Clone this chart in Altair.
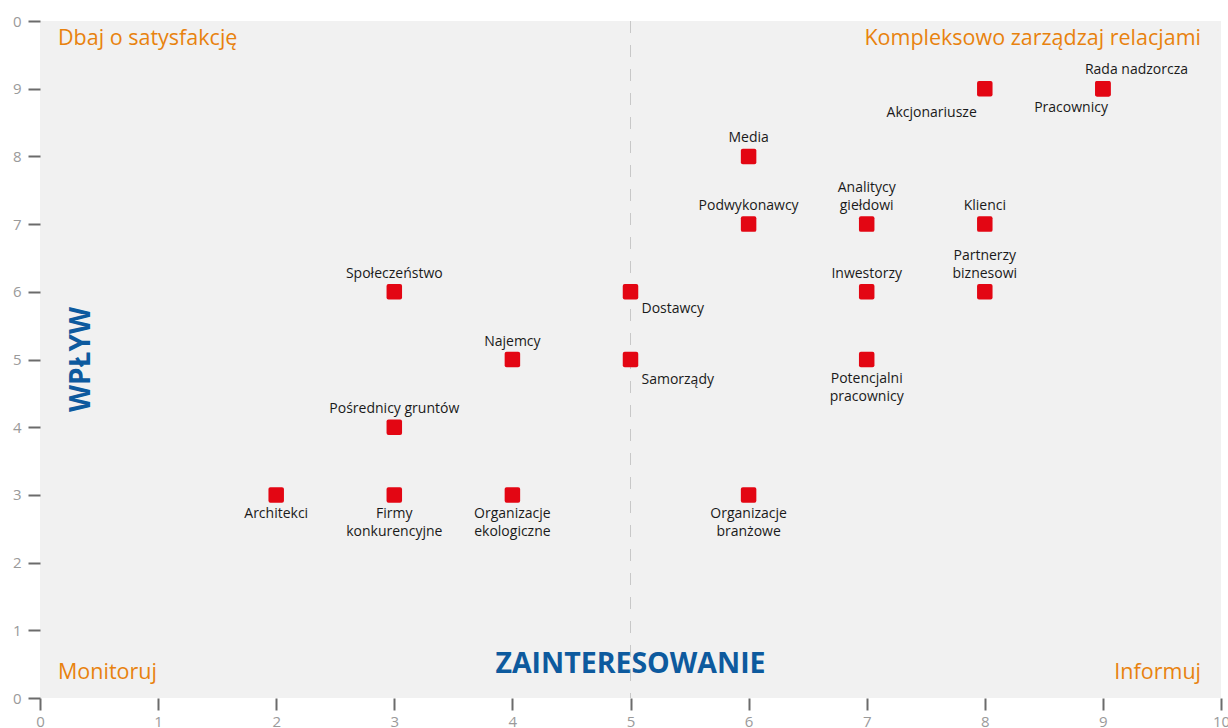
import altair as alt
import pandas as pd

# Stakeholder map data
names = ["Rada nadzorcza", "Pracownicy", "Akcjonariusze", "Media", "Podwykonawcy",
         "Analitycy\ngiełdowi", "Klienci", "Inwestorzy", "Partnerzy\nbiznesowi",
         "Społeczeństwo", "Dostawcy", "Najemcy", "Samorządy", "Potencjalni\npracownicy",
         "Pośrednicy gruntów", "Architekci", "Firmy\nkonkurencyjne",
         "Organizacje\nekologiczne", "Organizacje\nbranżowe"]
interest = [9, 9, 8, 6, 6, 7, 8, 7, 8, 3, 5, 4, 5, 7, 3, 2, 3, 4, 6]
influence = [9, 9, 9, 8, 7, 7, 7, 6, 6, 6, 6, 5, 5, 5, 4, 3, 3, 3, 3]
placement = ["above-right", "below-left", "below-left-far", "above", "above",
             "above2", "above", "above", "above2", "above", "right", "above", "right2",
             "below", "above", "below", "below", "below", "below"]

quad_texts = ["Dbaj o satysfakcję", "Kompleksowo zarządzaj relacjami", "Monitoruj", "Informuj"]
quad_x = [0, 10, 0, 10]
quad_y = [10, 10, 0, 0]
quad_align = ["left", "right", "left", "right"]
quad_base = ["top", "top", "bottom", "bottom"]

df = pd.DataFrame({"name": names, "x": interest, "y": influence, "pos": placement})
df["label"] = df["name"].str.split("\n")

FONT = "Open Sans"
W, H = 1181, 677

xs = alt.Scale(domain=[0, 10], nice=False, zero=False)
ys = alt.Scale(domain=[0, 10], nice=False, zero=False)

base = alt.Chart(df)

xaxis = alt.Axis(values=list(range(0, 11)), format="d", domain=False, grid=False, tickSize=12,
                 tickWidth=2, tickColor="#6b6b6b", labelColor="#9a9a9a", labelFontSize=15,
                 labelFont=FONT, labelPadding=4, title=None, labelFlush=False)
yaxis = alt.Axis(values=list(range(0, 11)), format="d", domain=False, grid=False, tickSize=12,
                 tickWidth=2, tickColor="#6b6b6b", labelColor="#9a9a9a", labelFontSize=15,
                 labelFont=FONT, labelPadding=7, title=None, labelFlush=False,
                 labelExpr="datum.value == 10 ? '0' : datum.label")

rounded = "M-0.75,-1 L0.75,-1 Q1,-1 1,-0.75 L1,0.75 Q1,1 0.75,1 L-0.75,1 Q-1,1 -1,0.75 L-1,-0.75 Q-1,-1 -0.75,-1 Z"

points = base.mark_point(shape=rounded, filled=True, size=240, color="#e30613",
                         opacity=1).encode(
    x=alt.X("x:Q", scale=xs, axis=xaxis),
    y=alt.Y("y:Q", scale=ys, axis=yaxis),
)

mid = alt.Chart(pd.DataFrame({"x": [5]})).mark_rule(
    color="#c8c8c8", strokeDash=[12, 12], strokeWidth=1).encode(x=alt.X("x:Q", scale=xs))

styles = {
    "above": dict(align="center", baseline="bottom", dx=0, dy=-11),
    "above2": dict(align="center", baseline="bottom", dx=0, dy=-29),
    "below": dict(align="center", baseline="top", dx=0, dy=12),
    "right": dict(align="left", baseline="top", dx=11, dy=10),
    "right2": dict(align="left", baseline="top", dx=11, dy=13),
    "above-right": dict(align="left", baseline="bottom", dx=-18, dy=-12),
    "below-left": dict(align="right", baseline="top", dx=5, dy=12),
    "below-left-far": dict(align="right", baseline="top", dx=-8, dy=17),
}

label_layers = []
for pos, st in styles.items():
    label_layers.append(
        base.transform_filter(alt.datum.pos == pos).mark_text(
            font=FONT, fontSize=14, color="#1a1a1a", lineHeight=18, **st
        ).encode(x=alt.X("x:Q", scale=xs), y=alt.Y("y:Q", scale=ys), text="label:N")
    )

qdf = pd.DataFrame({"t": quad_texts, "x": quad_x, "y": quad_y})
quad_layers = []
for i in range(4):
    sub = qdf.iloc[[i]]
    dx = 18 if quad_align[i] == "left" else -20
    dy = 7 if quad_base[i] == "top" else -14
    quad_layers.append(
        alt.Chart(sub).mark_text(font=FONT, fontSize=21.5, color="#e8820e",
                                 align=quad_align[i], baseline=quad_base[i], dx=dx, dy=dy).encode(
            x=alt.X("x:Q", scale=xs), y=alt.Y("y:Q", scale=ys), text="t:N")
    )

xtitle = alt.Chart(pd.DataFrame({"t": ["ZAINTERESOWANIE"], "x": [5], "y": [0]})).mark_text(
    font=FONT, fontSize=28.5, fontWeight="bold", color="#0d5a9e", align="center",
    baseline="middle", dy=-34).encode(
    x=alt.X("x:Q", scale=xs), y=alt.Y("y:Q", scale=ys), text="t:N")

ytitle = alt.Chart(pd.DataFrame({"t": ["WPŁYW"], "x": [0], "y": [5]})).mark_text(
    font=FONT, fontSize=28, fontWeight="bold", color="#0d5a9e", align="center",
    baseline="middle", angle=270, dy=42).encode(
    x=alt.X("x:Q", scale=xs), y=alt.Y("y:Q", scale=ys), text="t:N")

chart = alt.layer(mid, *quad_layers, xtitle, ytitle, points, *label_layers).properties(
    width=W, height=H,
    autosize=alt.AutoSizeParams(type="none"),
    padding={"left": 40, "top": 21, "right": 7, "bottom": 30},
    background="white",
).configure_view(fill="#f1f1f1", stroke=None)

chart.save("out.html", embed_options={"renderer": "svg", "actions": False})
